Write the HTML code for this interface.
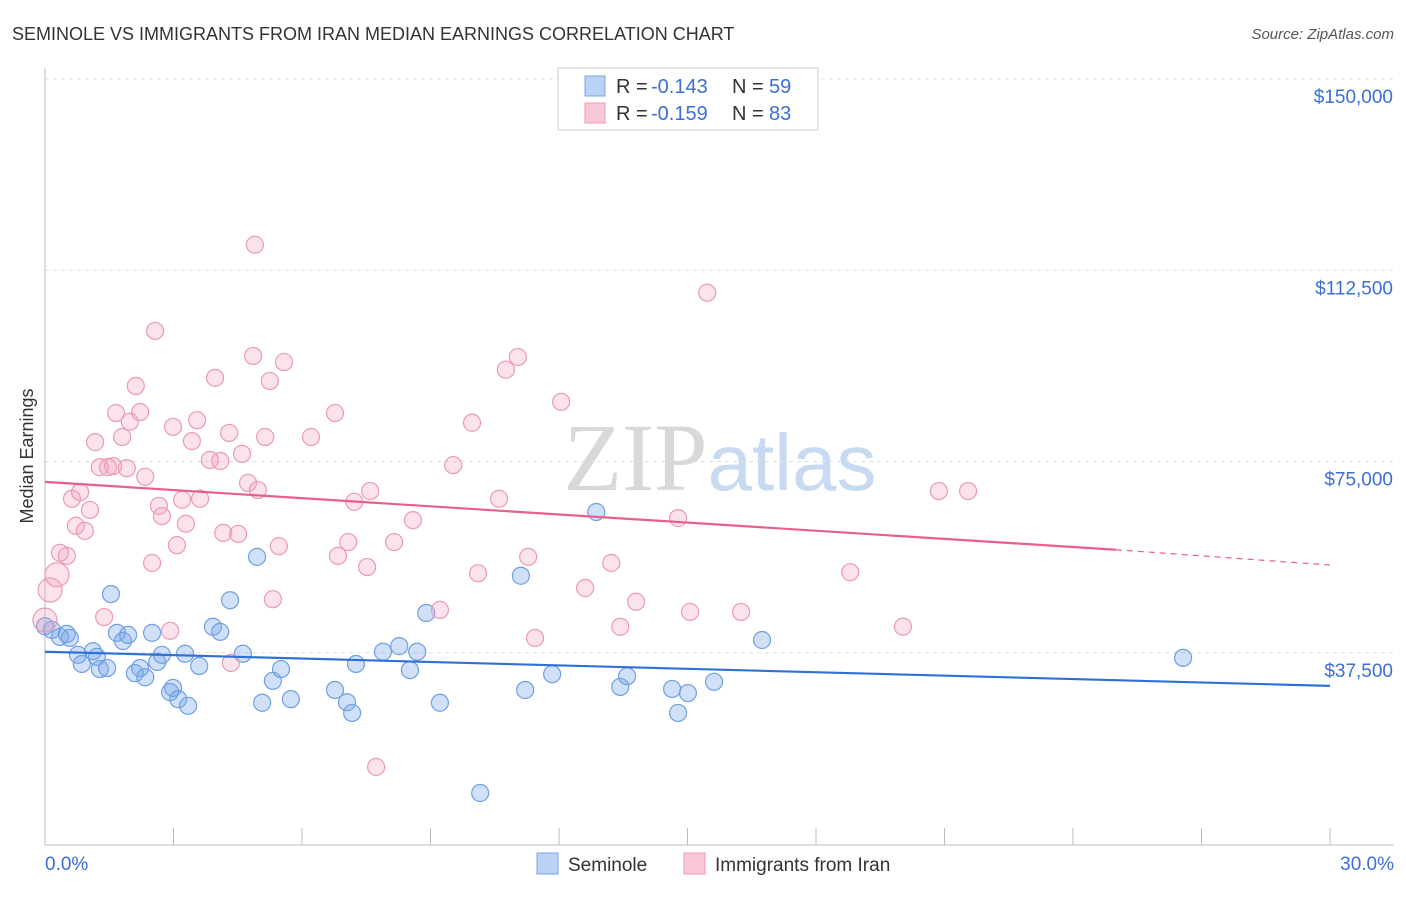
<!DOCTYPE html>
<html><head><meta charset="utf-8"><style>
body{margin:0;background:#fff;font-family:"Liberation Sans",sans-serif;}
svg text{font-family:"Liberation Sans",sans-serif;}
</style></head><body>
<svg id="chart" width="1406" height="892" xmlns="http://www.w3.org/2000/svg">
<text x="12" y="40" font-size="18" fill="#333">SEMINOLE VS IMMIGRANTS FROM IRAN MEDIAN EARNINGS CORRELATION CHART</text>
<text x="1394" y="39" font-size="15" fill="#555" text-anchor="end" font-style="italic">Source: ZipAtlas.com</text>
<text x="720" y="490" font-size="96" text-anchor="middle" fill="#ddd" font-family="Liberation Serif"><tspan fill="#d8d8d8" font-family="Liberation Serif">ZIP</tspan><tspan fill="#c8daf2" font-family="Liberation Sans" font-size="80">atlas</tspan></text>
<text transform="translate(33,456) rotate(-90)" font-size="18" fill="#333" text-anchor="middle">Median Earnings</text>
<g id="grid"></g><g id="pts"></g><g id="lines"></g>
<g>
<rect x="558" y="68" width="260" height="62" fill="#fff" stroke="#ccc"/>
<rect x="585" y="76" width="20" height="20" fill="#b9d2f5" stroke="#7aa5e3"/>
<text x="616" y="93" font-size="20" fill="#333">R =</text>
<text x="651" y="93" font-size="20" fill="#3b6fd4">-0.143</text>
<text x="732" y="93" font-size="20" fill="#333">N =</text>
<text x="769" y="93" font-size="20" fill="#3b6fd4">59</text>
<rect x="585" y="103" width="20" height="20" fill="#f9c8d7" stroke="#eb9ab5"/>
<text x="616" y="120" font-size="20" fill="#333">R =</text>
<text x="651" y="120" font-size="20" fill="#3b6fd4">-0.159</text>
<text x="732" y="120" font-size="20" fill="#333">N =</text>
<text x="769" y="120" font-size="20" fill="#3b6fd4">83</text>
</g>
<g>
<rect x="537" y="853" width="21" height="21" fill="#b9d2f5" stroke="#7aa5e3"/>
<text x="568" y="871" font-size="19" fill="#333">Seminole</text>
<rect x="684" y="853" width="21" height="21" fill="#f9c8d7" stroke="#eb9ab5"/>
<text x="715" y="871" font-size="19" fill="#333">Immigrants from Iran</text>
</g>
<text x="45" y="870" font-size="19" fill="#3b6fd4">0.0%</text>
<text x="1394" y="870" font-size="19" fill="#3b6fd4" text-anchor="end">30.0%</text>
</svg>
<script>
const yTicks=[37500,75000,112500,150000];
const yTickLabels=["$37,500","$75,000","$112,500","$150,000"];
const blueX=[0.16,0.35,0.51,0.58,0.77,0.86,1.12,1.21,1.28,1.45,1.54,1.68,1.82,1.94,2.10,2.22,2.34,2.50,2.62,2.73,2.92,2.99,3.11,3.27,3.34,3.60,3.92,4.09,4.32,4.62,4.95,5.07,5.32,5.51,5.74,6.77,7.05,7.17,7.26,7.89,8.27,8.52,8.69,8.90,9.22,10.16,11.11,11.21,11.84,12.87,13.43,13.59,14.64,14.78,15.01,15.62,16.74,26.57,0];
const blueY=[42.0,40.6,41.2,40.4,37.1,35.3,37.8,36.7,34.3,34.5,49.0,41.4,39.8,41.0,33.5,34.5,32.7,41.4,35.7,37.1,29.8,30.6,28.4,37.3,27.1,34.9,42.6,41.6,47.8,37.3,56.3,27.7,32.0,34.3,28.4,30.2,27.8,25.7,35.3,37.7,38.8,34.1,37.7,45.3,27.7,10.0,52.6,30.2,33.3,65.1,30.8,32.9,30.4,25.7,29.6,31.8,40.0,36.5,42.7];
const pinkX=[0,0.12,0.28,0.35,0.51,0.63,0.72,0.82,0.93,1.05,1.17,1.28,1.38,1.47,1.59,1.66,1.80,1.91,1.98,2.12,2.22,2.34,2.50,2.57,2.66,2.73,2.92,2.99,3.08,3.20,3.29,3.43,3.55,3.62,3.85,3.97,4.09,4.16,4.30,4.34,4.51,4.60,4.74,4.86,4.90,4.97,5.14,5.25,5.32,5.46,5.58,6.21,6.77,6.84,7.08,7.22,7.52,7.59,7.73,8.15,8.59,9.22,9.53,9.97,10.11,10.60,10.76,11.04,11.28,11.44,12.05,12.61,13.22,13.43,13.80,14.78,15.06,15.46,16.25,18.80,20.03,20.87,21.55];
const pinkY=[43.9,49.8,52.8,57.1,56.5,67.7,62.4,69.0,61.4,65.5,78.8,73.9,44.5,73.9,74.1,84.5,79.8,73.7,82.8,89.8,84.7,72.0,55.1,100.6,66.3,64.3,41.8,81.8,58.6,67.5,62.8,79.0,83.1,67.7,75.3,91.4,75.1,61.0,80.6,35.5,60.8,76.5,70.8,95.7,117.5,69.4,79.8,90.8,48.0,58.4,94.5,79.8,84.5,56.5,59.2,67.1,54.3,69.2,15.1,59.2,63.5,45.9,74.3,82.6,53.1,67.7,93.0,95.5,56.3,40.4,86.7,50.2,55.1,42.6,47.5,63.9,45.5,108.1,45.5,53.3,42.6,69.2,69.2];
const blueTrend=[37.7,31.0];
const pinkTrend=[71.0,57.7,54.7];
const pinkSolidEnd=25;
const NS="http://www.w3.org/2000/svg";
const X0=45,X1=1330,YB=844,PPK=765/150;
const sx=v=>X0+(X1-X0)*v/30;
const sy=k=>YB-k*PPK;
function mk(t,a,p){const e=document.createElementNS(NS,t);for(const k in a)e.setAttribute(k,a[k]);p.appendChild(e);return e;}
const grid=document.getElementById('grid');
yTicks.forEach((t,i)=>{
 const y=sy(t/1000);
 const l=mk('line',{x1:45,x2:1394,y1:y,y2:y,stroke:'#ddd','stroke-dasharray':'4,4'},grid);
 
 
 const tx=mk('text',{x:1393,y:y+24,'font-size':19,fill:'#3b6fd4','text-anchor':'end'},grid);
 tx.textContent=yTickLabels[i];
 
 
});
const topLine=mk('line',{x1:45,x2:1394,y1:79,y2:79,stroke:'#ddd','stroke-dasharray':'4,4'},grid);


const ax=mk('line',{x1:45,x2:1394,y1:845,y2:845,stroke:'#bbb'},grid);


const ay=mk('line',{x1:45,x2:45,y1:68,y2:845,stroke:'#bbb'},grid);


for(let i=0;i<=10;i++){const x=sx(i*3);
 const t=mk('line',{x1:x,x2:x,y1:828,y2:845,stroke:'#bbb'},grid);
 
 }
const pts=document.getElementById('pts');
blueX.forEach((v,i)=>{
 const c=mk('circle',{cx:sx(v),cy:sy(blueY[i]),r:8.5,fill:'rgba(120,165,235,0.35)',stroke:'#6f9fe0','stroke-width':1.2},pts);
 
 
});
pinkX.forEach((v,i)=>{
 const c=mk('circle',{cx:sx(v),cy:sy(pinkY[i]),r:i<3?12:8.5,fill:'rgba(245,160,190,0.3)',stroke:'#e99ab6','stroke-width':1.2},pts);
 
 
});
const lines=document.getElementById('lines');
const bl=mk('line',{x1:sx(0),y1:sy(blueTrend[0]),x2:sx(30),y2:sy(blueTrend[1]),stroke:'#2f6fd6','stroke-width':2.2},lines);


const pl=mk('line',{x1:sx(0),y1:sy(pinkTrend[0]),x2:sx(pinkSolidEnd),y2:sy(pinkTrend[1]),stroke:'#e7608c','stroke-width':2.2},lines);


const pd=mk('line',{x1:sx(pinkSolidEnd),y1:sy(pinkTrend[1]),x2:sx(30),y2:sy(pinkTrend[2]),stroke:'#e7608c','stroke-width':1.2,'stroke-dasharray':'6,5'},lines);


</script>
</body></html>
